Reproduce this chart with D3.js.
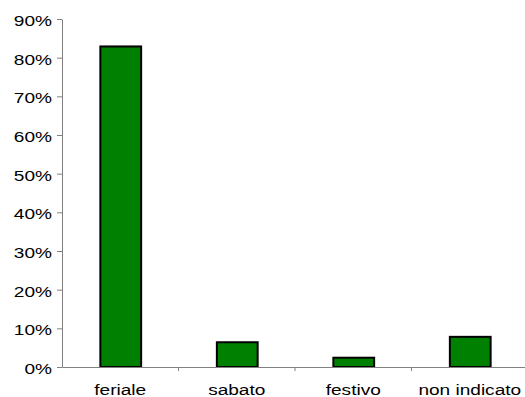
<!DOCTYPE html>
<html>
<head>
<meta charset="utf-8">
<script src="https://cdn.jsdelivr.net/npm/d3@7"></script>
<style>
  html, body { margin: 0; padding: 0; background: #fff; }
  svg text { font-family: "Liberation Sans", Arial, sans-serif; font-size: 15.5px; fill: #000; }
</style>
</head>
<body>
<svg id="chart" width="525" height="397"></svg>
<script>
const categories = ["feriale", "sabato", "festivo", "non indicato"];
const values = [0.829, 0.064, 0.024, 0.078];
const yTicks = [0, 0.1, 0.2, 0.3, 0.4, 0.5, 0.6, 0.7, 0.8, 0.9];

const svg = d3.select("#chart");
const plotLeft = 62, plotRight = 528, plotTop = 19, plotBottom = 367;
const stretch = 1.23; // labels are drawn slightly wide

const x = d3.scaleBand().domain(categories).range([plotLeft, plotRight]).paddingInner(0).paddingOuter(0);
const y = d3.scaleLinear().domain([0, 0.9]).range([plotBottom, plotTop]);

const barW = x.bandwidth() * 0.35;

// bars
svg.append("g").selectAll("rect")
  .data(categories)
  .join("rect")
  .attr("x", (d) => x(d) + x.bandwidth() / 2 - barW / 2 + 0.5)
  .attr("y", (d, i) => y(values[i]))
  .attr("width", barW)
  .attr("height", (d, i) => y(0) - y(values[i]))
  .attr("fill", "#008000")
  .attr("stroke", "#000")
  .attr("stroke-width", 2);

// y axis
const yAxis = svg.append("g")
  .attr("transform", `translate(${plotLeft},0)`)
  .call(d3.axisLeft(y).tickValues(yTicks).tickFormat(d3.format(".0%")).tickSize(5).tickSizeOuter(0));
yAxis.select(".domain").attr("stroke", "#808080");
yAxis.selectAll(".tick line").attr("stroke", "#808080");
yAxis.selectAll(".tick text")
  .attr("x", 0)
  .attr("dy", "0.42em")
  .attr("transform", `translate(-10,0) scale(${stretch},1)`)
  .style("font-size", "15.5px");

// x axis
const xAxis = svg.append("g")
  .attr("transform", `translate(0,${plotBottom})`)
  .call(d3.axisBottom(x).tickSize(0).tickSizeOuter(0).tickPadding(16.5));
xAxis.select(".domain").attr("stroke", "#808080");
xAxis.selectAll(".tick text")
  .attr("transform", `scale(${stretch},1)`)
  .attr("x", 0)
  .style("font-size", "15.5px");

// category separators on the x axis
svg.append("g").selectAll("line")
  .data(categories.slice(1))
  .join("line")
  .attr("x1", (d) => x(d)).attr("x2", (d) => x(d))
  .attr("y1", plotBottom).attr("y2", plotBottom + 4)
  .attr("stroke", "#808080");
</script>
</body>
</html>
